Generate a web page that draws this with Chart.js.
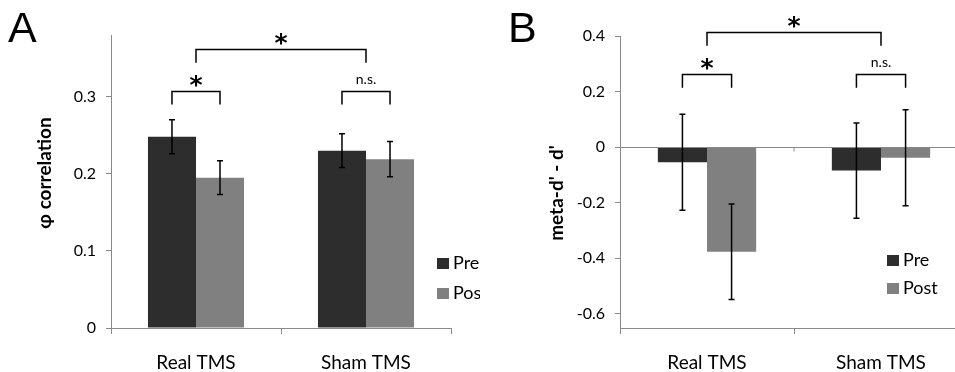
<!DOCTYPE html>
<html>
<head>
<meta charset="utf-8">
<script src="https://cdn.jsdelivr.net/npm/chart.js@4"></script>
<style>
  html, body { margin: 0; padding: 0; background: #fff; }
  #wrap { position: relative; width: 955px; height: 372px; overflow: hidden; }
  canvas { position: absolute; top: 0; }
  .letter { position: absolute; font-family: "Liberation Sans", Arial, sans-serif; font-size: 43px; top: 3px; }
</style>
</head>
<body>
<div id="wrap">
  <canvas id="chart-a" width="480" height="372" style="left:0"></canvas>
  <canvas id="chart-b" width="490" height="372" style="left:480px"></canvas>
  <div class="letter" style="left:8px">A</div>
  <div class="letter" style="left:508px">B</div>
</div>
<script>
// Data
const categories = ["Real TMS", "Sham TMS"];
const seriesNames = ["Pre", "Post"];

// Panel A: phi correlation
const phiPre = [0.248, 0.230];
const phiPost = [0.195, 0.219];
const phiPreErr = [0.022, 0.022];
const phiPostErr = [0.022, 0.023];

// Panel B: meta-d' - d'
const metaPre = [-0.055, -0.085];
const metaPost = [-0.377, -0.039];
const metaPreErr = [0.173, 0.172];
const metaPostErr = [0.172, 0.173];

// significance brackets: [category, series] ends (series null = category centre)
const phiBrackets = [
  { from: [0, 0], to: [0, 1], top: 0.308, leg: 0.29, label: "*" },
  { from: [1, 0], to: [1, 1], top: 0.308, leg: 0.29, label: "n.s." },
  { from: [0, null], to: [1, null], top: 0.362, leg: 0.344, label: "*" },
];
const metaBrackets = [
  { from: [0, 0], to: [0, 1], top: 0.262, leg: 0.214, label: "*" },
  { from: [1, 0], to: [1, 1], top: 0.262, leg: 0.214, label: "n.s." },
  { from: [0, null], to: [1, null], top: 0.413, leg: 0.365, label: "*" },
];

const PRE_COLOR = "#2d2d2d";
const POST_COLOR = "#808080";
const AXIS_COLOR = "#8a8a8a";
const FONT = "Lato, 'Open Sans', sans-serif";

// error bars, brackets, legend, zero line, axis title
const extras = {
  id: "extras",
  afterDatasetsDraw(chart, args, opts) {
    const ctx = chart.ctx;
    const y = chart.scales.y;
    const x = chart.scales.x;
    const area = chart.chartArea;
    ctx.save();

    if (opts.zeroLine) {
      const zy = Math.round(y.getPixelForValue(0)) + 0.5;
      ctx.strokeStyle = AXIS_COLOR;
      ctx.lineWidth = 1;
      ctx.beginPath();
      ctx.moveTo(area.left, zy);
      ctx.lineTo(area.right, zy);
      const half = (x.getPixelForValue(1) - x.getPixelForValue(0)) / 2;
      const mid = x.getPixelForValue(0) + half;
      ctx.moveTo(mid, zy);
      ctx.lineTo(mid, zy + 4);
      ctx.stroke();
    }

    // error bars
    ctx.strokeStyle = "#000";
    ctx.lineWidth = 1.5;
    chart.data.datasets.forEach((ds, di) => {
      const meta = chart.getDatasetMeta(di);
      meta.data.forEach((bar, i) => {
        const v = ds.data[i];
        const e = ds.errors[i];
        const y1 = y.getPixelForValue(v + e);
        const y2 = y.getPixelForValue(v - e);
        ctx.beginPath();
        ctx.moveTo(bar.x, y1);
        ctx.lineTo(bar.x, y2);
        ctx.moveTo(bar.x - 3, y1);
        ctx.lineTo(bar.x + 3, y1);
        ctx.moveTo(bar.x - 3, y2);
        ctx.lineTo(bar.x + 3, y2);
        ctx.stroke();
      });
    });

    // brackets
    const endX = (end) => {
      if (end[1] === null) return x.getPixelForValue(end[0]);
      return chart.getDatasetMeta(end[1]).data[end[0]].x;
    };
    ctx.lineWidth = 1.5;
    ctx.textAlign = "center";
    ctx.fillStyle = "#000";
    (opts.brackets || []).forEach((b) => {
      const xa = endX(b.from);
      const xb = endX(b.to);
      const yt = Math.round(y.getPixelForValue(b.top)) + 0.5;
      const yl = y.getPixelForValue(b.leg);
      ctx.beginPath();
      ctx.moveTo(xa, yl);
      ctx.lineTo(xa, yt);
      ctx.lineTo(xb, yt);
      ctx.lineTo(xb, yl);
      ctx.stroke();
      ctx.textBaseline = "alphabetic";
      if (b.label === "*") {
        ctx.font = "bold 25px 'DejaVu Sans', sans-serif";
        ctx.fillText("*", (xa + xb) / 2, yt + 1);
      } else {
        ctx.font = "14px " + FONT;
        ctx.fillText(b.label, (xa + xb) / 2, yt - 8);
      }
    });

    // legend
    const lg = opts.legend;
    ctx.font = "18px " + FONT;
    ctx.textAlign = "left";
    ctx.textBaseline = "middle";
    chart.data.datasets.forEach((ds, di) => {
      const ly = lg.y + di * lg.gap;
      ctx.fillStyle = ds.backgroundColor;
      ctx.fillRect(lg.x, ly - 5, 12, 11);
      ctx.fillStyle = "#000";
      ctx.fillText(ds.label, lg.x + 16, ly);
    });

    // y axis title
    const t = opts.title;
    ctx.translate(area.left - t.dx, t.y);
    ctx.rotate(-Math.PI / 2);
    ctx.font = "bold 19px " + FONT;
    ctx.textAlign = "center";
    ctx.textBaseline = "middle";
    ctx.fillStyle = "#000";
    ctx.fillText(t.text, 0, 0);
    ctx.restore();
  },
};

function makeChart(id, pre, post, preErr, postErr, yOpts) {
  return new Chart(document.getElementById(id), {
    type: "bar",
    data: {
      labels: categories,
      datasets: [
        { label: seriesNames[0], data: pre, errors: preErr, backgroundColor: PRE_COLOR },
        { label: seriesNames[1], data: post, errors: postErr, backgroundColor: POST_COLOR },
      ],
    },
    options: {
      responsive: false,
      animation: false,
      devicePixelRatio: 1,
      layout: { padding: yOpts.padding },
      datasets: { bar: { categoryPercentage: 0.565, barPercentage: 1 } },
      plugins: {
        legend: { display: false },
        tooltip: { enabled: false },
        extras: { brackets: yOpts.brackets, legend: yOpts.legend, zeroLine: yOpts.zeroLine, title: yOpts.title },
      },
      scales: {
        x: {
          offset: true,
          border: { color: AXIS_COLOR, width: 1 },
          grid: { offset: true, drawOnChartArea: false, tickLength: 6, color: AXIS_COLOR },
          ticks: { color: "#000", padding: 17, font: { family: FONT, size: 19 }, maxRotation: 0 },
          afterFit: (s) => { s.height = 44; },
        },
        y: {
          min: yOpts.min,
          max: yOpts.max,
          border: { color: AXIS_COLOR, width: 1 },
          grid: { drawOnChartArea: false, tickLength: 5, color: AXIS_COLOR },
          ticks: {
            stepSize: yOpts.step,
            includeBounds: false,
            color: "#000",
            padding: 10,
            font: { family: FONT, size: 16 },
            callback: (v) => (Math.abs(v) < 1e-9 ? "0" : String(Math.round(v * 10) / 10)),
          },
          afterFit: (s) => { s.width = yOpts.axisWidth; },
        },
      },
    },
    plugins: [extras],
  });
}

makeChart("chart-a", phiPre, phiPost, phiPreErr, phiPostErr, {
  min: 0, max: 0.38, step: 0.1,
  title: { text: "φ correlation", dx: 66, y: 173 },
  axisWidth: 111,
  padding: { left: 0, right: 29, top: 35, bottom: 0 },
  brackets: phiBrackets,
  legend: { x: 437, y: 263, gap: 30 },
  zeroLine: false,
});

makeChart("chart-b", metaPre, metaPost, metaPreErr, metaPostErr, {
  min: -0.652, max: 0.4, step: 0.2,
  title: { text: "meta-d' - d'", dx: 63, y: 193 },
  axisWidth: 140,
  padding: { left: 0, right: 2, top: 36, bottom: 0 },
  brackets: metaBrackets,
  legend: { x: 407, y: 260, gap: 28 },
  zeroLine: true,
});
</script>
</body>
</html>
